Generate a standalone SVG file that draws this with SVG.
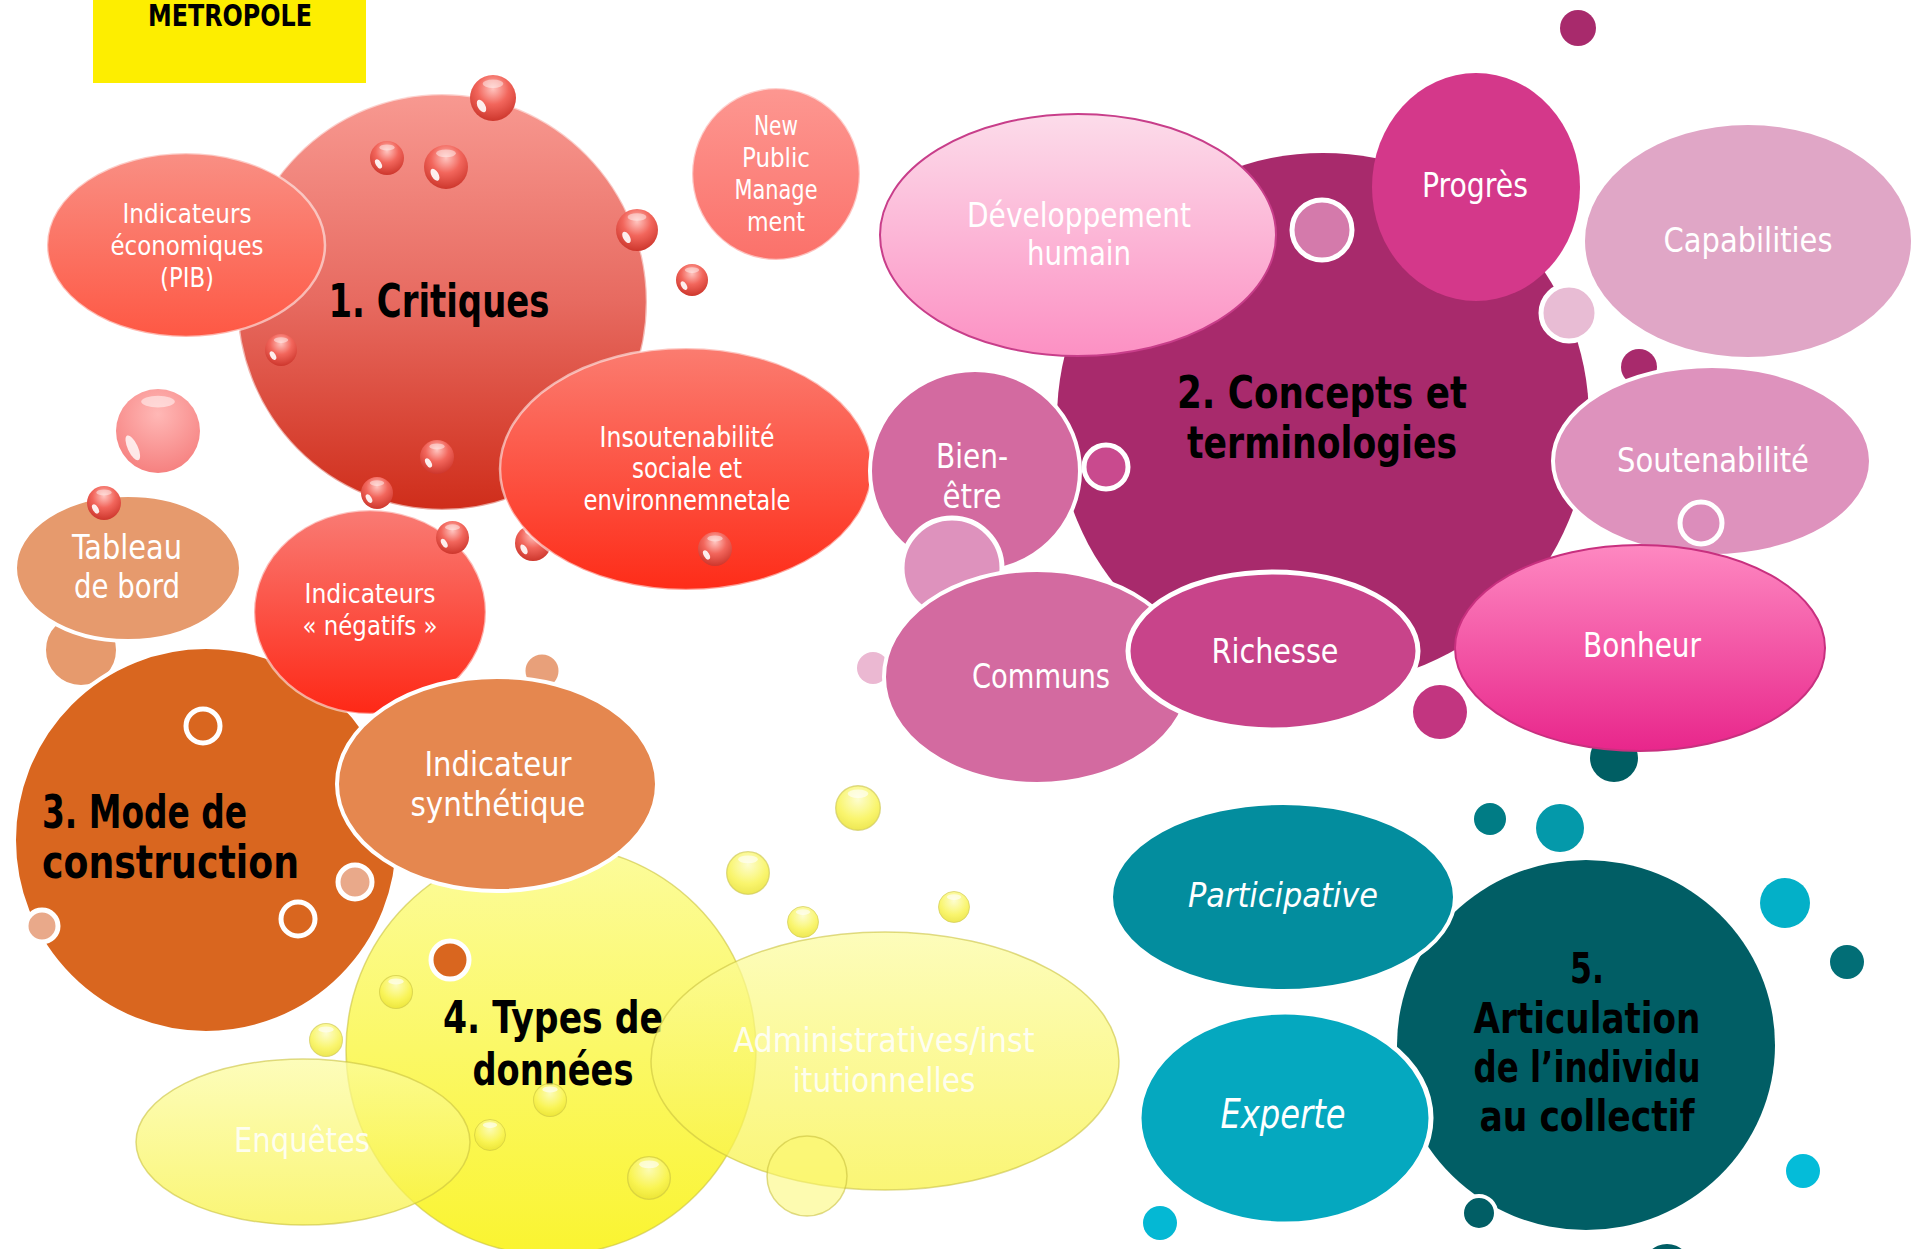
<svg xmlns="http://www.w3.org/2000/svg" xmlns:xlink="http://www.w3.org/1999/xlink" width="1917" height="1249" viewBox="0 0 1917 1249">
<style>
text{font-family:"DejaVu Sans Condensed","DejaVu Sans",sans-serif;font-stretch:condensed;text-anchor:middle;}
.w{fill:#fff;}
.h{fill:#000;font-weight:bold;}
.it{font-style:italic;}
.ws{stroke:#fff;stroke-width:4;}
.ring{stroke:#fff;stroke-width:5;}
.rim{stroke:#fff;stroke-opacity:.55;stroke-width:2.5;}
.yl{stroke:#c9c240;stroke-opacity:.6;stroke-width:1.5;}
</style>
<defs>
<linearGradient id="gCrit" x1="0" y1="0" x2="0" y2="1"><stop offset="0" stop-color="#f89991"/><stop offset=".5" stop-color="#e76a60"/><stop offset="1" stop-color="#cf2d1a"/></linearGradient>
<linearGradient id="gEco" x1="0" y1="0" x2="0" y2="1"><stop offset="0" stop-color="#f98f84"/><stop offset="1" stop-color="#fe5844"/></linearGradient>
<linearGradient id="gNpm" x1="0" y1="0" x2="0" y2="1"><stop offset="0" stop-color="#fd9791"/><stop offset="1" stop-color="#fb716a"/></linearGradient>
<linearGradient id="gIns" x1="0" y1="0" x2="0" y2="1"><stop offset="0" stop-color="#fb7c70"/><stop offset="1" stop-color="#fe2c18"/></linearGradient>
<linearGradient id="gNeg" x1="0" y1="0" x2="0" y2="1"><stop offset="0" stop-color="#f97b74"/><stop offset="1" stop-color="#fe2816"/></linearGradient>
<linearGradient id="gDev" x1="0" y1="0" x2="0" y2="1"><stop offset="0" stop-color="#fcdcea"/><stop offset="1" stop-color="#fc90c3"/></linearGradient>
<linearGradient id="gBon" x1="0" y1="0" x2="0" y2="1"><stop offset="0" stop-color="#fe88c1"/><stop offset="1" stop-color="#e8268b"/></linearGradient>
<linearGradient id="gYel" x1="0" y1="0" x2="0" y2="1"><stop offset="0" stop-color="#fcfc9c"/><stop offset="1" stop-color="#faf430"/></linearGradient>
<linearGradient id="gYel2" x1="0" y1="0" x2="0" y2="1"><stop offset="0" stop-color="#fcfca0"/><stop offset="1" stop-color="#f8f240"/></linearGradient>
<radialGradient id="gDrop" cx=".5" cy=".3" r=".75"><stop offset="0" stop-color="#ffc4bf"/><stop offset=".45" stop-color="#f2665c"/><stop offset="1" stop-color="#c83026"/></radialGradient>
<radialGradient id="gPale" cx=".5" cy=".3" r=".75"><stop offset="0" stop-color="#ffb8b6"/><stop offset="1" stop-color="#f57d7c"/></radialGradient>
<radialGradient id="gYDrop" cx=".5" cy=".3" r=".75"><stop offset="0" stop-color="#fdfdc8"/><stop offset=".6" stop-color="#f9f455"/><stop offset="1" stop-color="#e8e030"/></radialGradient>
<symbol id="drop" viewBox="-1 -1 2 2" overflow="visible">
<circle r="1" fill="url(#gDrop)"/>
<ellipse cx="0" cy="-.62" rx=".45" ry=".18" fill="#fff" opacity=".45"/>
<ellipse cx="-.5" cy=".35" rx=".16" ry=".3" transform="rotate(-30 -.5 .35)" fill="#fff" opacity=".9"/>
</symbol>
<symbol id="pale" viewBox="-1 -1 2 2" overflow="visible">
<circle r="1" fill="url(#gPale)"/>
<ellipse cx="0" cy="-.7" rx=".4" ry=".14" fill="#fff" opacity=".5"/>
<ellipse cx="-.6" cy=".4" rx=".12" ry=".32" transform="rotate(-25 -.6 .4)" fill="#fff" opacity=".8"/>
</symbol>
<symbol id="ydrop" viewBox="-1 -1 2 2" overflow="visible">
<circle r=".97" fill="url(#gYDrop)" opacity=".85" stroke="#c9c240" stroke-width=".06" stroke-opacity=".7"/>
<ellipse cx="0" cy="-.62" rx=".45" ry=".18" fill="#fff" opacity=".6"/>
</symbol>
</defs>
<rect width="1917" height="1249" fill="#fff"/>

<g id="header">
<rect x="93" y="0" width="273" height="83" fill="#fdee00"/>
<text class="h" x="230" y="26" font-size="30" textLength="164" lengthAdjust="spacingAndGlyphs">METROPOLE</text>
</g>

<g id="connectors"></g>

<!-- Group 1: Critiques -->
<g id="critiques">
<ellipse cx="442" cy="302" rx="205" ry="208" fill="url(#gCrit)" class="rim"/>
<text class="h" x="439" y="317" font-size="46" textLength="221" lengthAdjust="spacingAndGlyphs">1. Critiques</text>
</g>
<g id="drops-critiques">
<use href="#drop" x="470" y="75" width="46" height="46"/>
<use href="#drop" x="370" y="141" width="34" height="34"/>
<use href="#drop" x="424" y="145" width="44" height="44"/>
<use href="#drop" x="616" y="209" width="42" height="42"/>
<use href="#drop" x="676" y="264" width="32" height="32"/>
<use href="#drop" x="265" y="334" width="32" height="32"/>
<use href="#drop" x="420" y="440" width="34" height="34"/>
<use href="#drop" x="361" y="477" width="32" height="32"/>
<use href="#pale" x="116" y="388" width="84" height="86"/>
<use href="#drop" x="515" y="525" width="36" height="36"/>
</g>
<g id="eco">
<ellipse cx="186" cy="245" rx="139" ry="92" fill="url(#gEco)" class="rim"/>
<text class="w" font-size="27"><tspan x="187" y="223" textLength="129" lengthAdjust="spacingAndGlyphs">Indicateurs</tspan><tspan x="187" y="255" textLength="153" lengthAdjust="spacingAndGlyphs">économiques</tspan><tspan x="187" y="287" textLength="54" lengthAdjust="spacingAndGlyphs">(PIB)</tspan></text>
</g>
<g id="npm">
<ellipse cx="776" cy="174" rx="84" ry="86" fill="url(#gNpm)" class="rim"/>
<text class="w" font-size="27"><tspan x="776" y="135" textLength="44" lengthAdjust="spacingAndGlyphs">New</tspan><tspan x="776" y="167" textLength="68" lengthAdjust="spacingAndGlyphs">Public</tspan><tspan x="776" y="199" textLength="83" lengthAdjust="spacingAndGlyphs">Manage</tspan><tspan x="776" y="231" textLength="58" lengthAdjust="spacingAndGlyphs">ment</tspan></text>
</g>
<g id="insoutenabilite">
<ellipse cx="686" cy="469" rx="186" ry="121" fill="url(#gIns)" class="rim"/>
<text class="w" font-size="28"><tspan x="687" y="447" textLength="175" lengthAdjust="spacingAndGlyphs">Insoutenabilité</tspan><tspan x="687" y="478" textLength="110" lengthAdjust="spacingAndGlyphs">sociale et</tspan><tspan x="687" y="510" textLength="207" lengthAdjust="spacingAndGlyphs">environnemnetale</tspan></text>
<use href="#drop" x="698" y="532" width="34" height="34"/>
</g>

<!-- Group 3: Mode de construction -->
<g id="orange-small"><circle cx="81" cy="650" r="37" fill="#e69a6d" class="ws"/></g>
<g id="tableau">
<ellipse cx="128" cy="568" rx="113" ry="73" fill="#e69a6d" class="ws"/>
<text class="w" font-size="34"><tspan x="127" y="559" textLength="110" lengthAdjust="spacingAndGlyphs">Tableau</tspan><tspan x="127" y="598" textLength="106" lengthAdjust="spacingAndGlyphs">de bord</tspan></text>
<use href="#drop" x="87" y="486" width="34" height="34"/>
</g>
<g id="mode">
<ellipse cx="206" cy="840" rx="192" ry="193" fill="#d9661f" class="ws"/>
<text class="h" font-size="46" style="text-anchor:start"><tspan x="42" y="828" textLength="205" lengthAdjust="spacingAndGlyphs">3. Mode de</tspan><tspan x="42" y="878" textLength="257" lengthAdjust="spacingAndGlyphs">construction</tspan></text>
<circle cx="203" cy="726" r="17" fill="#d9661f" class="ring"/>
<circle cx="298" cy="919" r="17" fill="#d9661f" class="ring"/>
<circle cx="42" cy="926" r="16" fill="#e9a98a" class="ring"/>
</g>
<g id="negatifs">
<ellipse cx="370" cy="612" rx="116" ry="102" fill="url(#gNeg)" class="rim"/>
<text class="w" font-size="27"><tspan x="370" y="603" textLength="131" lengthAdjust="spacingAndGlyphs">Indicateurs</tspan><tspan x="370" y="635" textLength="135" lengthAdjust="spacingAndGlyphs">« négatifs »</tspan></text>
<use href="#drop" x="436" y="521" width="33" height="33"/>
</g>

<!-- Group 4: Types de données -->
<g id="types">
<ellipse cx="551" cy="1050" rx="205" ry="205" fill="url(#gYel)" class="yl"/>
<text class="h" font-size="45"><tspan x="553" y="1033" textLength="220" lengthAdjust="spacingAndGlyphs">4. Types de</tspan><tspan x="553" y="1085" textLength="161" lengthAdjust="spacingAndGlyphs">données</tspan></text>
</g>
<g id="synthetique">
<circle cx="542" cy="671" r="19" fill="#e8a07a" class="ring"/>
<ellipse cx="497" cy="784" rx="160" ry="107" fill="#e5874f" class="ws" stroke-width="5"/>
<text class="w" font-size="34"><tspan x="498" y="776" textLength="147" lengthAdjust="spacingAndGlyphs">Indicateur</tspan><tspan x="498" y="816" textLength="175" lengthAdjust="spacingAndGlyphs">synthétique</tspan></text>
<circle cx="355" cy="882" r="17" fill="#e9a98a" class="ring"/>
<circle cx="450" cy="960" r="19" fill="#d9661f" class="ring"/>
</g>
<g id="enquetes">
<ellipse cx="303" cy="1142" rx="167" ry="83" fill="url(#gYel2)" fill-opacity=".72" class="yl"/>
<text class="w" font-size="34" opacity=".85" x="302" y="1152" textLength="136" lengthAdjust="spacingAndGlyphs">Enquêtes</text>
</g>
<g id="admin">
<ellipse cx="885" cy="1061" rx="234" ry="129" fill="url(#gYel2)" fill-opacity=".72" class="yl"/>
<text class="w" font-size="34" opacity=".85"><tspan x="884" y="1052" textLength="301" lengthAdjust="spacingAndGlyphs">Administratives/inst</tspan><tspan x="884" y="1092" textLength="183" lengthAdjust="spacingAndGlyphs">itutionnelles</tspan></text>
</g>
<g id="drops-yellow">
<use href="#ydrop" x="835" y="785" width="46" height="46"/>
<use href="#ydrop" x="726" y="851" width="44" height="44"/>
<use href="#ydrop" x="787" y="906" width="32" height="32"/>
<use href="#ydrop" x="938" y="891" width="32" height="32"/>
<use href="#ydrop" x="379" y="975" width="34" height="34"/>
<use href="#ydrop" x="309" y="1023" width="34" height="34"/>
<use href="#ydrop" x="533" y="1083" width="34" height="34"/>
<use href="#ydrop" x="474" y="1119" width="32" height="32"/>
<use href="#ydrop" x="627" y="1156" width="44" height="44"/>
<circle cx="807" cy="1176" r="40" fill="#fbf870" fill-opacity=".55" class="yl"/>
</g>

<!-- Group 2: Concepts et terminologies -->
<g id="concepts">
<circle cx="1578" cy="28" r="18" fill="#a82a6c"/>
<ellipse cx="1323" cy="419" rx="266" ry="266" fill="#a82a6c"/>
<text class="h" font-size="45"><tspan x="1322" y="408" textLength="290" lengthAdjust="spacingAndGlyphs">2. Concepts et</tspan><tspan x="1322" y="458" textLength="270" lengthAdjust="spacingAndGlyphs">terminologies</tspan></text>
<circle cx="1639" cy="367" r="18" fill="#a82a6c"/>
</g>
<g id="developpement">
<ellipse cx="1078" cy="235" rx="198" ry="121" fill="url(#gDev)" stroke="#c83e8a" stroke-width="2"/>
<text class="w" font-size="34"><tspan x="1079" y="227" textLength="224" lengthAdjust="spacingAndGlyphs">Développement</tspan><tspan x="1079" y="265" textLength="104" lengthAdjust="spacingAndGlyphs">humain</tspan></text>
</g>
<g id="progres">
<ellipse cx="1476" cy="187" rx="104" ry="114" fill="#d4388a"/>
<text class="w" font-size="33" x="1475" y="197" textLength="106" lengthAdjust="spacingAndGlyphs">Progrès</text>
<circle cx="1322" cy="230" r="30" fill="#d47aab" class="ring"/>
</g>
<g id="capabilities">
<ellipse cx="1748" cy="241" rx="163" ry="116" fill="#e0a6c6"/>
<text class="w" font-size="33" x="1748" y="252" textLength="169" lengthAdjust="spacingAndGlyphs">Capabilities</text>
<circle cx="1569" cy="313" r="28" fill="#e8bcd4" class="ring"/>
</g>
<g id="soutenabilite">
<ellipse cx="1712" cy="461" rx="159" ry="95" fill="#de92bd" class="ws"/>
<text class="w" font-size="33" x="1713" y="472" textLength="192" lengthAdjust="spacingAndGlyphs">Soutenabilité</text>
<circle cx="1701" cy="523" r="21" fill="#dc8dbb" class="ring"/>
</g>
<g id="bienetre">
<ellipse cx="975" cy="471" rx="105" ry="101" fill="#d36aa0" class="ws"/>
<text class="w" font-size="34"><tspan x="972" y="468" textLength="72" lengthAdjust="spacingAndGlyphs">Bien-</tspan><tspan x="972" y="508" textLength="59" lengthAdjust="spacingAndGlyphs">être</tspan></text>
<circle cx="1106" cy="467" r="22" fill="#c94a8e" class="ring"/>
<circle cx="952" cy="568" r="50" fill="#de92bd" class="ring"/>
<circle cx="873" cy="668" r="16" fill="#ebb8d2"/>
</g>
<g id="communs">
<ellipse cx="1037" cy="677" rx="153" ry="107" fill="#d36aa0" class="ws" stroke-width="5"/>
<text class="w" font-size="33" x="1041" y="688" textLength="138" lengthAdjust="spacingAndGlyphs">Communs</text>
</g>
<g id="richesse">
<ellipse cx="1273" cy="651" rx="145" ry="79" fill="#c8448a" class="ring"/>
<text class="w" font-size="33" x="1275" y="663" textLength="127" lengthAdjust="spacingAndGlyphs">Richesse</text>
<circle cx="1440" cy="712" r="27" fill="#c23580"/>
</g>
<g id="bonheur">
<circle cx="1614" cy="758" r="24" fill="#005e63"/>
<ellipse cx="1640" cy="648" rx="185" ry="103" fill="url(#gBon)" stroke="#c8307f" stroke-width="2"/>
<text class="w" font-size="33" x="1642" y="657" textLength="118" lengthAdjust="spacingAndGlyphs">Bonheur</text>
</g>

<!-- Group 5: Articulation -->
<g id="articulation">
<ellipse cx="1586" cy="1045" rx="189" ry="185" fill="#015e65"/>
<text class="h" font-size="42"><tspan x="1587" y="983" textLength="34" lengthAdjust="spacingAndGlyphs">5.</tspan><tspan x="1587" y="1033" textLength="227" lengthAdjust="spacingAndGlyphs">Articulation</tspan><tspan x="1587" y="1082" textLength="227" lengthAdjust="spacingAndGlyphs">de l’individu</tspan><tspan x="1587" y="1131" textLength="215" lengthAdjust="spacingAndGlyphs">au collectif</tspan></text>
</g>
<g id="participative">
<ellipse cx="1283" cy="897" rx="172" ry="94" fill="#038d9e" class="ws"/>
<text class="w it" font-size="33" x="1283" y="907" textLength="190" lengthAdjust="spacingAndGlyphs">Participative</text>
</g>
<g id="experte">
<ellipse cx="1285" cy="1118" rx="146" ry="106" fill="#05a8bf" class="ring"/>
<text class="w it" font-size="40" x="1283" y="1128" textLength="125" lengthAdjust="spacingAndGlyphs">Experte</text>
</g>
<g id="dots-teal">
<circle cx="1490" cy="819" r="16" fill="#007c85"/>
<circle cx="1560" cy="828" r="24" fill="#0499aa"/>
<circle cx="1785" cy="903" r="25" fill="#03b0c8"/>
<circle cx="1847" cy="962" r="17" fill="#026e76"/>
<circle cx="1803" cy="1171" r="17" fill="#04bcd9"/>
<circle cx="1160" cy="1223" r="17" fill="#04b8d4"/>
<circle cx="1479" cy="1213" r="17" fill="#015e65" stroke="#fff" stroke-width="4"/>
<circle cx="1667" cy="1268" r="24" fill="#015e65"/>
</g>
</svg>
